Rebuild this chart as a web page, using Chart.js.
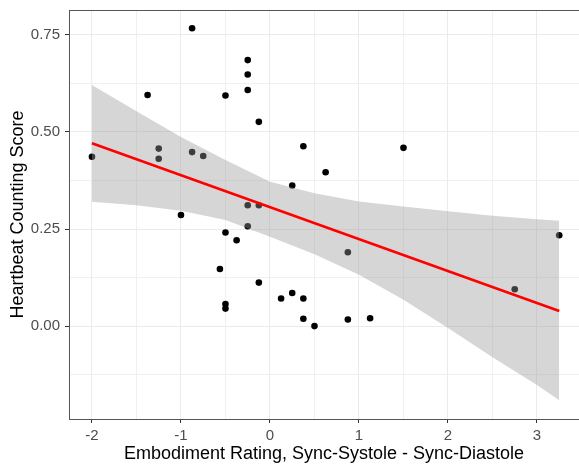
<!DOCTYPE html>
<html>
<head>
<meta charset="utf-8">
<script src="https://cdn.jsdelivr.net/npm/chart.js@4.4.1/dist/chart.umd.min.js"></script>
<style>
  html, body { margin: 0; padding: 0; background: #fff; }
</style>
</head>
<body>
<canvas id="embodimentScatter" width="579" height="465"></canvas>
<script>
// values
const embodiment = [
  -2, -1.375, -1.25, -1.25, -1, -0.875, -0.875, -0.75, -0.5625,
  -0.5, -0.5, -0.5, -0.5, -0.375, -0.25, -0.25, -0.25, -0.25, -0.25,
  -0.125, -0.125, -0.125, 0.125, 0.25, 0.25, 0.375, 0.375, 0.375,
  0.5, 0.625, 0.875, 0.875, 1.125, 1.5, 2.75, 3.25,
];
const heartbeat = [
  0.436, 0.595, 0.457, 0.431, 0.286, 0.767, 0.448, 0.438, 0.147,
  0.594, 0.241, 0.057, 0.045, 0.221, 0.685, 0.648, 0.608, 0.311, 0.257,
  0.526, 0.311, 0.112, 0.071, 0.362, 0.085, 0.463, 0.071, 0.019,
  0.0, 0.396, 0.19, 0.017, 0.02, 0.459, 0.095, 0.234,
];

// linear fit + confidence band
const fitX = [-2, 3.25];
const fitY = [0.471, 0.039];
const bandX = [-2, -1.5, -1, -0.5, 0, 0.5, 1, 1.5, 2, 2.5, 3, 3.25];
const bandUpper = [0.621, 0.553, 0.487, 0.428, 0.372, 0.342, 0.321, 0.308, 0.296, 0.284, 0.275, 0.271];
const bandLower = [0.320, 0.311, 0.297, 0.273, 0.230, 0.185, 0.132, 0.068, -0.005, -0.080, -0.152, -0.191];

// grid breaks, labelled ones + minor ones
const xTicks = [-2, -1.5, -1, -0.5, 0, 0.5, 1, 1.5, 2, 2.5, 3];
const yTicks = [-0.125, 0, 0.125, 0.25, 0.375, 0.5, 0.625, 0.75];
const xLabels = [-2, -1, 0, 1, 2, 3];
const yLabels = [0, 0.25, 0.5, 0.75];

const xyPairs = (xs, ys) => xs.map((x, i) => ({ x: x, y: ys[i] }));
const isMajor = (list, v) => list.some((m) => Math.abs(m - v) < 1e-6);

const panelBorder = {
  id: "panelBorder",
  afterDraw(chart) {
    const { ctx, chartArea: a } = chart;
    ctx.save();
    ctx.strokeStyle = "#555555";
    ctx.lineWidth = 1;
    ctx.strokeRect(Math.round(a.left) + 0.5, Math.round(a.top) + 0.5,
      Math.round(a.right - a.left) + 8, Math.round(a.bottom - a.top));
    ctx.restore();
  },
};

const tickFont = { family: "Liberation Sans", size: 15 };
const titleFont = { family: "Liberation Sans", size: 18 };

new Chart(document.getElementById("embodimentScatter"), {
  type: "scatter",
  data: {
    datasets: [
      {
        label: "participants",
        data: xyPairs(embodiment, heartbeat),
        backgroundColor: "#000000",
        borderWidth: 0,
        pointRadius: 3.3,
        order: 3,
      },
      {
        label: "lower",
        data: xyPairs(bandX, bandLower),
        showLine: true,
        borderWidth: 0,
        borderColor: "rgba(0,0,0,0)",
        pointRadius: 0,
        fill: false,
        order: 2,
      },
      {
        label: "upper",
        data: xyPairs(bandX, bandUpper),
        showLine: true,
        borderWidth: 0,
        borderColor: "rgba(0,0,0,0)",
        pointRadius: 0,
        fill: "-1",
        backgroundColor: "rgba(153,153,153,0.4)",
        order: 2,
      },
      {
        label: "fit",
        data: xyPairs(fitX, fitY),
        showLine: true,
        borderColor: "#ff0000",
        borderWidth: 2.6,
        pointRadius: 0,
        order: 0,
      },
    ],
  },
  options: {
    responsive: false,
    animation: false,
    layout: { autoPadding: false, padding: { top: 10, right: 0, left: 0, bottom: 0 } },
    plugins: { legend: { display: false }, tooltip: { enabled: false } },
    scales: {
      x: {
        type: "linear",
        min: -2.258,
        max: 3.472,
        afterBuildTicks: (scale) => { scale.ticks = xTicks.map((v) => ({ value: v })); },
        afterFit: (scale) => {
          scale.height = 46;
          scale.paddingLeft = 0;
          scale.paddingRight = 0;
        },
        border: { display: false },
        grid: {
          color: (c) => (c.tick && isMajor(xLabels, c.tick.value) ? "#ebebeb" : "#f0f0f0"),
          tickColor: (c) => (c.tick && isMajor(xLabels, c.tick.value) ? "#333333" : "rgba(0,0,0,0)"),
          tickLength: 4,
        },
        ticks: {
          autoSkip: false,
          maxRotation: 0,
          padding: 4,
          color: "#4d4d4d",
          font: tickFont,
          callback: (v) => (isMajor(xLabels, v) ? String(v) : ""),
        },
        title: {
          display: true,
          text: "Embodiment Rating, Sync-Systole - Sync-Diastole",
          color: "#000000",
          font: titleFont,
          padding: { top: 0, bottom: 0 },
        },
      },
      y: {
        type: "linear",
        min: -0.2393,
        max: 0.814,
        afterBuildTicks: (scale) => { scale.ticks = yTicks.map((v) => ({ value: v })); },
        afterFit: (scale) => {
          scale.width = 69;
          scale.paddingTop = 0;
          scale.paddingBottom = 0;
        },
        border: { display: false },
        grid: {
          color: (c) => (c.tick && isMajor(yLabels, c.tick.value) ? "#ebebeb" : "#f0f0f0"),
          tickColor: (c) => (c.tick && isMajor(yLabels, c.tick.value) ? "#333333" : "rgba(0,0,0,0)"),
          tickLength: 4,
        },
        ticks: {
          autoSkip: false,
          padding: 5,
          color: "#4d4d4d",
          font: tickFont,
          callback: (v) => (isMajor(yLabels, v) ? v.toFixed(2) : ""),
        },
        title: {
          display: true,
          text: "Heartbeat Counting Score",
          color: "#000000",
          font: titleFont,
          padding: { top: 7, bottom: 0 },
        },
      },
    },
  },
  plugins: [panelBorder],
});
</script>
</body>
</html>
